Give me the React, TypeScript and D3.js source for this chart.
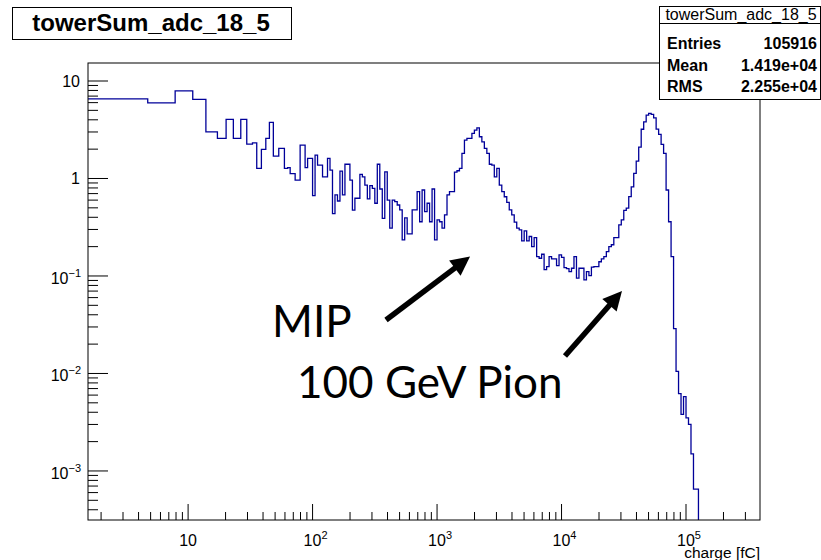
import React from 'react';
import * as d3 from 'd3';

// ---------------- data ----------------
const histTitle = 'towerSum_adc_18_5';
const statsLabels = ['Entries', 'Mean', 'RMS'];
const statsValues = ['105916', '1.419e+04', '2.255e+04'];
const xAxisTitle = 'charge [fC]';

const xDomain = [1.57, 3.93e5];
const yDomain = [3.14e-4, 15.3];

// low-charge bins (explicit edges, fC) and their contents
const lowEdges = [1.57, 4.74, 7.87, 10.9, 13.9, 17.2, 20.2, 23.1, 26.5, 29.6, 32.9, 35.6, 38.8, 42.1, 45.0, 48.4, 53.5, 59.4, 63.1];
const lowValues = [6.56, 5.97, 7.92, 6.47, 3.01, 2.58, 4.04, 2.58, 4.04, 2.25, 2.32, 1.27, 1.99, 2.58, 3.76, 1.70, 2.04, 1.27];

// log-spaced bins starting at 10^1.8 fC, 50 per decade
const logStartExp = 1.8;
const binsPerDecade = 50;
const logValues = [
  1.29, 1.12, 1.12, 0.96, 0.96, 2.2, 2.2, 1.29, 1.61, 1.61,
  0.667, 1.74, 1.37, 1.37, 1.04, 1.04, 1.61, 1.22, 0.436, 0.678,
  0.588, 1.19, 0.678, 1.40, 1.40, 0.96, 0.473, 0.627, 0.627, 1.10,
  1.04, 0.857, 0.617, 0.844, 0.79, 0.557, 1.40, 0.78, 0.39, 1.17,
  0.60, 0.31, 0.60, 0.58, 0.535, 0.476, 0.235, 0.394, 0.27, 0.27,
  0.476, 0.476, 0.733, 0.36, 0.762, 0.457, 0.557, 0.36, 0.78, 0.235,
  0.376, 0.36, 0.31, 0.423, 0.678, 0.733, 0.733, 1.16, 1.2, 1.27,
  1.81, 2.48, 2.58, 2.58, 2.9, 3.14, 3.31, 2.68, 2.38, 2.04,
  1.81, 1.40, 1.37, 1.04, 1.27, 0.857, 0.733, 0.65, 0.57, 0.476,
  0.423, 0.356, 0.31, 0.297, 0.229, 0.29, 0.229, 0.254, 0.2, 0.247,
  0.158, 0.152, 0.167, 0.116, 0.125, 0.158, 0.15, 0.15, 0.128, 0.165,
  0.155, 0.122, 0.119, 0.111, 0.12, 0.158, 0.095, 0.12, 0.12, 0.0914,
  0.111, 0.101, 0.123, 0.125, 0.125, 0.14, 0.15, 0.158, 0.178, 0.2,
  0.209, 0.247, 0.247, 0.334, 0.376, 0.47, 0.496, 0.652, 0.82, 1.13,
  1.51, 2.1, 3.2, 3.8, 4.47, 4.65, 4.54, 4.19, 3.21, 2.83,
  2.24, 1.81, 0.762, 0.36, 0.158, 0.0288, 0.0105, 0.0062, 0.0038, 0.0058,
  0.0035, 0.003, 0.0015, 0.00065, 0.00065, 0,
];

const xMajorTicks = [10, 100, 1e3, 1e4, 1e5];
const yMajorTicks = [1e-3, 1e-2, 1e-1, 1, 10];

// annotations in data coordinates
const annotationTexts = [
  { text: 'MIP', x: 47.3, y: 0.0237 },
  { text: '100 GeV Pion', x: 75.1, y: 0.00561 },
];
const annotationArrows = [
  { from: [389, 0.0354], to: [1841, 0.158] },
  { from: [10660, 0.0151], to: [30600, 0.0702] },
];

// ---------------- layout ----------------
const W = 821, H = 560;
const frame = { left: 88, right: 760, top: 63, bottom: 520 };
const FONT = 'Liberation Sans, Arial, Helvetica, sans-serif';
const HIST_COLOR = '#000099';

function powLabel(v: number, fs: number, supFs: number, supDy: number) {
  const e = Math.round(Math.log10(v));
  if (e === 0) return [<tspan key="b">1</tspan>];
  if (e === 1) return [<tspan key="b">10</tspan>];
  const s = e < 0 ? '\u2212' + String(-e) : String(e);
  return [
    <tspan key="b" fontSize={fs}>10</tspan>,
    <tspan key="s" fontSize={supFs} dy={-supDy}>{s}</tspan>,
  ];
}

export default function App() {
  const x = d3.scaleLog().domain(xDomain).range([frame.left, frame.right]);
  const y = d3.scaleLog().domain(yDomain).range([frame.bottom, frame.top]);

  const edges: number[] = lowEdges.slice(0, -1);
  for (let i = 0; i <= logValues.length; i++) {
    edges.push(Math.pow(10, logStartExp + i / binsPerDecade));
  }
  const values = [...lowValues, ...logValues];
  const yc = (v: number) => (v > 0 ? y(v) : frame.bottom + 2);

  let d = `M${x(edges[0])},${yc(values[0])}`;
  for (let i = 0; i < values.length; i++) {
    d += `H${x(edges[i + 1])}`;
    if (i + 1 < values.length) d += `V${yc(values[i + 1])}`;
  }
  d += `V${frame.bottom + 2}`;

  // minor ticks
  const minorTicks = (dom: number[]) => {
    const out: number[] = [];
    const e0 = Math.floor(Math.log10(dom[0]));
    const e1 = Math.ceil(Math.log10(dom[1]));
    for (let e = e0; e <= e1; e++) {
      for (let k = 2; k <= 9; k++) {
        const v = k * Math.pow(10, e);
        if (v >= dom[0] && v <= dom[1]) out.push(v);
      }
    }
    return out;
  };
  const xMinor = minorTicks(xDomain);
  const yMinor = minorTicks(yDomain);

  const yMajLen = 20, yMinLen = 10, xMajLen = 16, xMinLen = 8;

  const arrowEls = annotationArrows.map((a, i) => {
    const x0 = x(a.from[0]), y0 = y(a.from[1]);
    const x1 = x(a.to[0]), y1 = y(a.to[1]);
    const dx = x1 - x0, dy = y1 - y0;
    const L = Math.hypot(dx, dy);
    const ux = dx / L, uy = dy / L;
    const hl = 19, hw = 9.5;
    const bx = x1 - ux * hl, by = y1 - uy * hl;
    const px = -uy, py = ux;
    const pts = `${x1},${y1} ${bx + px * hw},${by + py * hw} ${bx - px * hw},${by - py * hw}`;
    return (
      <g key={i}>
        <line x1={x0} y1={y0} x2={bx + ux * 2} y2={by + uy * 2} stroke="#000" strokeWidth={5.5} />
        <polygon points={pts} fill="#000" />
      </g>
    );
  });

  return (
    <svg width={W} height={H} style={{ position: 'absolute', left: 0, top: 0, background: '#fff' }} fontFamily={FONT}>
      <rect x={0} y={0} width={W} height={H} fill="#fff" />
      <defs>
        <clipPath id="fclip">
          <rect x={frame.left} y={frame.top} width={frame.right - frame.left} height={frame.bottom - frame.top} />
        </clipPath>
      </defs>

      {/* histogram */}
      <path d={d} fill="none" stroke={HIST_COLOR} strokeWidth={1.3} clipPath="url(#fclip)" />

      {/* frame */}
      <rect x={frame.left} y={frame.top} width={frame.right - frame.left} height={frame.bottom - frame.top} fill="none" stroke="#000" strokeWidth={1} />

      {/* y ticks */}
      {yMajorTicks.map((t) => (
        <line key={'ym' + t} x1={frame.left} x2={frame.left + yMajLen} y1={y(t)} y2={y(t)} stroke="#000" strokeWidth={1} />
      ))}
      {yMinor.map((t) => (
        <line key={'yn' + t} x1={frame.left} x2={frame.left + yMinLen} y1={y(t)} y2={y(t)} stroke="#000" strokeWidth={1} />
      ))}
      {yMajorTicks.map((t) => {
        const e = Math.round(Math.log10(t));
        const hasSup = e < 0;
        return (
          <text key={'yl' + t} x={hasSup ? 81 : 80} y={y(t) + (hasSup ? 8 : 6)} textAnchor="end" fontSize={16} fill="#000">
            {powLabel(t, 16, 11, 7)}
          </text>
        );
      })}

      {/* x ticks */}
      {xMajorTicks.map((t) => (
        <line key={'xm' + t} x1={x(t)} x2={x(t)} y1={frame.bottom} y2={frame.bottom - xMajLen} stroke="#000" strokeWidth={1} />
      ))}
      {xMinor.map((t) => (
        <line key={'xn' + t} x1={x(t)} x2={x(t)} y1={frame.bottom} y2={frame.bottom - xMinLen} stroke="#000" strokeWidth={1} />
      ))}
      {xMajorTicks.map((t) => {
        const e = Math.round(Math.log10(t));
        return (
          <text key={'xl' + t} x={x(t) + (e > 1 ? 3 : 0)} y={546} textAnchor="middle" fontSize={16} fill="#000">
            {powLabel(t, 16, 11, 7)}
          </text>
        );
      })}
      <text x={frame.right} y={558} textAnchor="end" fontSize={15.5} fill="#000">{xAxisTitle}</text>

      {/* annotations */}
      {annotationTexts.map((a) => (
        <text key={a.text} x={x(a.x)} y={y(a.y)} fontSize={44} fontFamily="Lato, 'Open Sans', sans-serif" fill="#000">{a.text}</text>
      ))}
      {arrowEls}

      {/* title box */}
      <rect x={12.5} y={7.5} width={279} height={32} fill="#fff" stroke="#000" strokeWidth={1} />
      <text x={151} y={31} textAnchor="middle" fontSize={24} fontWeight="bold" fill="#000">{histTitle}</text>

      {/* stats box */}
      <rect x={659.5} y={6.5} width={161} height={93} fill="#fff" stroke="#000" strokeWidth={1} />
      <line x1={659.5} x2={821} y1={23.5} y2={23.5} stroke="#000" strokeWidth={1} />
      <text x={741} y={20} textAnchor="middle" fontSize={16} fill="#000">{histTitle}</text>
      {statsLabels.map((l, i) => (
        <g key={l}>
          <text x={667} y={49 + i * 21.5} fontSize={16} fontWeight="bold" fill="#000">{l}</text>
          <text x={817} y={49 + i * 21.5} fontSize={16} fontWeight="bold" textAnchor="end" fill="#000">{statsValues[i]}</text>
        </g>
      ))}
    </svg>
  );
}
